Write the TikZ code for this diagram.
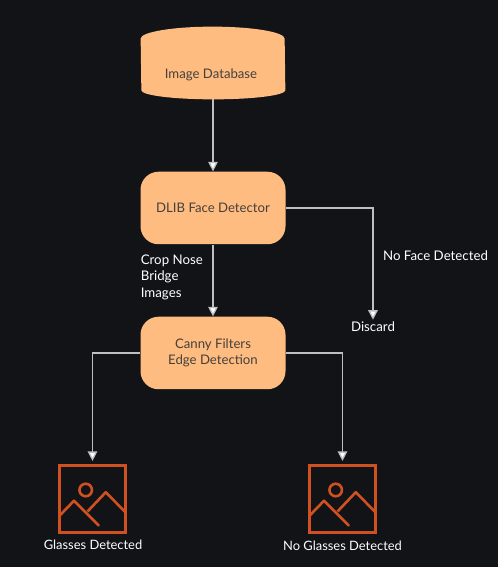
\documentclass[tikz,border=0pt]{standalone}
\usepackage{fontspec}
\setmainfont{Lato}
\usepackage{xcolor}
\usepackage{tikz}
\usetikzlibrary{arrows.meta}
\definecolor{bgdark}{HTML}{111317}
\definecolor{boxfill}{HTML}{FFBC80}
\definecolor{boxtext}{HTML}{45403C}
\definecolor{iconorange}{HTML}{CF5020}
\tikzset{
    procbox/.style={fill=boxfill, text=boxtext, rounded corners=0.36cm, minimum width=2.9cm, minimum height=1.45cm, align=center, inner sep=0pt, font=\fontsize{7.5}{9.3}\selectfont},
    dbbody/.style={minimum width=2.88cm, minimum height=1.44cm, inner sep=0pt},
    dbtext/.style={text=boxtext, inner sep=0pt, font=\fontsize{7.5}{9.3}\selectfont},
    flowlabel/.style={text=white, align=left, inner sep=0pt, font=\fontsize{7.55}{9.4}\selectfont},
    iconlabel/.style={text=white, inner sep=0pt, font=\fontsize{7.35}{9.4}\selectfont},
    flow/.style={draw=white!75!black, line width=0.75pt, -{Triangle[width=5.4pt, length=5.4pt, fill=white]}},
    iconbox/.style={draw=iconorange, line width=1.5pt, minimum size=1.33cm, inner sep=0pt},
    mountain/.pic={
        \draw[iconorange, line width=1.5pt] (-0.136, 0.18) circle (0.125);
        \draw[iconorange, line width=1.5pt, line cap=round, line join=round] (-0.665,-0.34) -- (-0.37,-0.035) -- (0.125,-0.53);
        \draw[iconorange, line width=1.5pt, line join=round] (-0.10,-0.25) -- (0.265,0.135) -- (0.665,-0.27);
    }
}
\begin{document}
\begin{tikzpicture}
    \fill[bgdark] (0, 0) rectangle (9.96, 11.34);
    \useasboundingbox (0, 0) rectangle (9.96, 11.34);

    \node[dbbody] at (4.26, 10.08) (imagedb) {};
    % database drum
    \fill[boxfill] ([yshift=-0.24cm]imagedb.north west)
        arc[start angle=180, end angle=0, x radius=1.44cm, y radius=0.24cm]
        -- ([yshift=0.18cm]imagedb.south east)
        arc[start angle=0, end angle=-180, x radius=1.44cm, y radius=0.18cm] -- cycle;
    \node[dbtext] at (4.22, 9.85) (imagedbtext) {Image Database};

    \node[procbox] at (4.26, 7.18) (facedet) {DLIB Face Detector};
    \node[procbox] at (4.26, 4.28) (canny) {Canny Filters\\Edge Detection};
    \node[flowlabel] at (7.46, 4.8) (discard) {Discard};
    \node[iconbox] at (1.85, 1.36) (iconA) {};
    \node[iconbox] at (6.85, 1.36) (iconB) {};
    \node[iconlabel] at (1.86, 0.45) (glasses) {Glasses Detected};
    \node[iconlabel] at (6.85, 0.43) (noglasses) {No Glasses Detected};
    \node[flowlabel] at (8.71, 6.22) (noface) {No Face Detected};
    \node[flowlabel, anchor=west] at (2.81, 5.8) (crop) {Crop Nose\\Bridge\\Images};

    \pic at (iconA) {mountain};
    \pic at (iconB) {mountain};

    \draw[flow] (imagedb.south) -- (facedet.north);
    \draw[flow] (facedet.south) -- (canny.north);
    \draw[flow] (facedet.east) -| ([yshift=0.04cm]discard.north);
    \draw[flow] (canny.west) -| ([yshift=0.07cm]iconA.north);
    \draw[flow] (canny.east) -| ([yshift=0.07cm]iconB.north);
\end{tikzpicture}
\end{document}
